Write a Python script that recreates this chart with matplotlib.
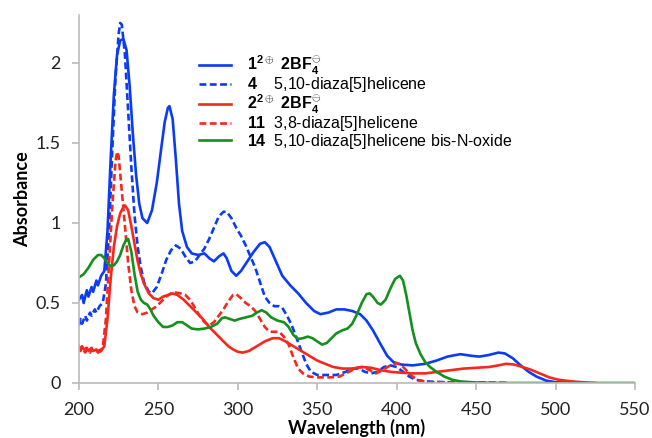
"""UV-vis absorption spectra of helicene dications and diaza[5]helicenes"""
import numpy as np
import matplotlib.pyplot as plt

plt.rcParams['font.family'] = ['Liberation Sans', 'DejaVu Sans']
plt.rcParams['mathtext.fontset'] = 'custom'
plt.rcParams['mathtext.rm'] = 'Liberation Sans'
plt.rcParams['mathtext.bf'] = 'Liberation Sans:bold'

# values
wl_1 = [200, 202, 203, 205, 206, 208, 209, 211, 212, 214, 216, 218, 220, 222, 224, 226, 228, 230,
        232, 234, 236, 238, 240, 243, 246, 249, 252, 254, 256, 257, 259, 261, 263, 265, 268, 271,
        275, 279, 282, 285, 288, 291, 293, 296, 299, 302, 306, 310, 314, 317, 320, 324, 328, 333,
        338, 343, 348, 352, 357, 362, 367, 372, 377, 381, 385, 390, 394, 398, 403, 410, 418, 425,
        432, 440, 447, 452, 458, 464, 468, 473, 478, 483, 488, 494, 500, 510]
abs_1 = [0.52, 0.55, 0.50, 0.58, 0.54, 0.60, 0.57, 0.64, 0.61, 0.67, 0.70, 0.95, 1.40, 1.80, 2.05,
         2.14, 2.15, 2.08, 1.85, 1.55, 1.30, 1.12, 1.03, 1.00, 1.08, 1.25, 1.48, 1.63, 1.72, 1.73,
         1.65, 1.40, 1.12, 0.95, 0.85, 0.81, 0.80, 0.81, 0.78, 0.76, 0.79, 0.81, 0.78, 0.70, 0.67,
         0.70, 0.76, 0.82, 0.87, 0.88, 0.85, 0.76, 0.67, 0.61, 0.56, 0.50, 0.45, 0.43, 0.44, 0.46,
         0.46, 0.45, 0.43, 0.39, 0.33, 0.24, 0.17, 0.13, 0.115, 0.11, 0.12, 0.14, 0.165, 0.18, 0.17,
         0.165, 0.175, 0.19, 0.185, 0.155, 0.11, 0.07, 0.04, 0.015, 0.005, 0.0]

wl_4 = [200, 201, 202, 204, 205, 207, 208, 210, 211, 213, 215, 217, 219, 221, 223, 225, 226, 227,
        229, 231, 233, 235, 237, 239, 241, 244, 246, 249, 252, 255, 258, 261, 264, 267, 270, 273,
        276, 279, 282, 285, 288, 291, 293, 296, 299, 302, 305, 308, 311, 314, 317, 320, 323, 326,
        328, 331, 334, 337, 340, 343, 346, 350, 356, 362, 368, 372, 376, 380, 384, 388, 392, 396,
        400, 404, 408, 412, 418, 430, 470]
abs_4 = [0.36, 0.40, 0.37, 0.42, 0.39, 0.44, 0.42, 0.46, 0.44, 0.48, 0.50, 0.62, 0.95, 1.45, 1.90,
         2.18, 2.25, 2.24, 2.05, 1.70, 1.35, 1.05, 0.85, 0.72, 0.63, 0.57, 0.56, 0.60, 0.68, 0.77,
         0.83, 0.86, 0.84, 0.79, 0.75, 0.76, 0.80, 0.84, 0.90, 0.97, 1.04, 1.07, 1.07, 1.03, 0.97,
         0.92, 0.86, 0.79, 0.72, 0.63, 0.54, 0.50, 0.48, 0.48, 0.47, 0.42, 0.36, 0.28, 0.20, 0.12,
         0.07, 0.05, 0.05, 0.05, 0.07, 0.09, 0.09, 0.07, 0.06, 0.07, 0.10, 0.11, 0.10, 0.07, 0.04,
         0.02, 0.01, 0.005, 0.0]

wl_2 = [200, 201, 202, 203, 205, 206, 208, 209, 211, 212, 214, 216, 218, 220, 222, 224, 226, 228,
        229, 231, 233, 235, 237, 239, 241, 244, 247, 250, 253, 256, 259, 262, 266, 270, 274, 278,
        282, 286, 290, 294, 297, 300, 303, 307, 312, 317, 322, 326, 330, 335, 340, 345, 350, 355,
        360, 366, 372, 378, 384, 390, 396, 402, 410, 418, 426, 434, 442, 450, 458, 464, 469, 474,
        479, 484, 490, 496, 502, 510, 518, 525]
abs_2 = [0.23, 0.21, 0.23, 0.21, 0.22, 0.20, 0.22, 0.20, 0.21, 0.19, 0.20, 0.23, 0.40, 0.65, 0.85,
         0.98, 1.06, 1.10, 1.11, 1.08, 0.98, 0.87, 0.76, 0.68, 0.62, 0.56, 0.53, 0.52, 0.54, 0.55,
         0.56, 0.55, 0.52, 0.48, 0.44, 0.40, 0.35, 0.31, 0.27, 0.23, 0.21, 0.195, 0.19, 0.20, 0.23,
         0.26, 0.28, 0.28, 0.26, 0.23, 0.20, 0.17, 0.14, 0.12, 0.10, 0.09, 0.09, 0.10, 0.095, 0.08,
         0.07, 0.065, 0.06, 0.06, 0.07, 0.08, 0.09, 0.095, 0.10, 0.11, 0.12, 0.115, 0.10, 0.085,
         0.06, 0.035, 0.02, 0.01, 0.004, 0.0]

wl_11 = [200, 201, 202, 204, 205, 207, 208, 210, 212, 214, 215, 217, 219, 221, 223, 224, 225, 227,
         229, 231, 233, 235, 237, 240, 243, 246, 249, 252, 255, 258, 261, 264, 267, 270, 273, 276,
         279, 282, 285, 288, 291, 294, 297, 299, 302, 305, 308, 311, 314, 317, 320, 323, 326, 329,
         332, 335, 338, 341, 345, 350, 358, 364, 370, 375, 379, 383, 387, 391, 396, 400, 403, 406,
         410, 414, 420, 470]
abs_11 = [0.22, 0.20, 0.22, 0.19, 0.21, 0.19, 0.21, 0.19, 0.20, 0.21, 0.22, 0.40, 0.75, 1.10, 1.38,
          1.445, 1.42, 1.20, 0.98, 0.75, 0.58, 0.48, 0.44, 0.43, 0.44, 0.46, 0.48, 0.51, 0.54, 0.56,
          0.565, 0.56, 0.55, 0.52, 0.47, 0.42, 0.38, 0.36, 0.38, 0.42, 0.46, 0.51, 0.55, 0.555, 0.53,
          0.50, 0.48, 0.45, 0.40, 0.35, 0.32, 0.32, 0.32, 0.29, 0.24, 0.16, 0.09, 0.06, 0.04, 0.035,
          0.035, 0.04, 0.07, 0.095, 0.10, 0.08, 0.06, 0.08, 0.11, 0.125, 0.11, 0.08, 0.04, 0.015,
          0.005, 0.0]

wl_14 = [200, 203, 206, 209, 212, 214, 216, 218, 220, 222, 224, 226, 228, 230, 231, 233, 235, 237,
         239, 241, 243, 245, 247, 250, 253, 256, 259, 262, 265, 268, 271, 275, 279, 283, 287, 290,
         292, 295, 298, 301, 305, 309, 312, 315, 318, 321, 325, 329, 332, 335, 338, 341, 344, 347,
         350, 353, 356, 359, 362, 366, 369, 372, 375, 378, 381, 383, 385, 388, 390, 393, 396, 399,
         402, 404, 406, 408, 410, 412, 415, 418, 421, 425, 430, 435, 440, 450, 460, 550]
abs_14 = [0.66, 0.68, 0.72, 0.77, 0.80, 0.80, 0.78, 0.75, 0.73, 0.735, 0.76, 0.80, 0.86, 0.90, 0.90,
          0.82, 0.68, 0.57, 0.52, 0.50, 0.49, 0.46, 0.42, 0.38, 0.35, 0.35, 0.36, 0.38, 0.38, 0.36,
          0.34, 0.335, 0.34, 0.35, 0.37, 0.405, 0.41, 0.40, 0.39, 0.40, 0.41, 0.42, 0.44, 0.455,
          0.44, 0.41, 0.39, 0.38, 0.35, 0.30, 0.275, 0.28, 0.29, 0.28, 0.26, 0.24, 0.25, 0.28, 0.31,
          0.33, 0.34, 0.37, 0.43, 0.50, 0.555, 0.56, 0.54, 0.50, 0.49, 0.52, 0.59, 0.65, 0.67, 0.64,
          0.55, 0.44, 0.33, 0.25, 0.18, 0.13, 0.10, 0.07, 0.04, 0.02, 0.01, 0.003, 0.0, 0.0]

labels = [r"$\mathbf{1^{2\oplus}\ 2BF_4^{\ominus}}$",
          r"$\mathbf{4}$    5,10-diaza[5]helicene",
          r"$\mathbf{2^{2\oplus}\ 2BF_4^{\ominus}}$",
          r"$\mathbf{11}$  3,8-diaza[5]helicene",
          r"$\mathbf{14}$  5,10-diaza[5]helicene bis-N-oxide"]

blue, red, green = '#0a3cf5', '#f5281e', '#14901e'
series = [(wl_1, abs_1, blue, '-'), (wl_4, abs_4, blue, '--'),
          (wl_2, abs_2, red, '-'), (wl_11, abs_11, red, '--'),
          (wl_14, abs_14, green, '-')]

fig = plt.figure(figsize=(6.52, 4.38), dpi=100)
ax = fig.add_axes([0.121, 0.1256, 0.853, 0.8402])
for (wl, ab, col, ls), lab in zip(series, labels):
    kw = dict(dashes=(2.6, 1.3)) if ls == '--' else {}
    ax.plot(wl, ab, ls, color=col, lw=1.9, label=lab, **kw)

ax.set_xlim(200, 550)
ax.set_ylim(0, 2.3)
ax.set_xticks(np.arange(200, 551, 50))
ax.set_yticks([0, 0.5, 1, 1.5, 2])
ax.set_yticklabels(["0", "0.5", "1", "1.5", "2"])
for s in ['top', 'right']:
    ax.spines[s].set_visible(False)
for s in ['left', 'bottom']:
    ax.spines[s].set_color('#bbbbbb')
    ax.spines[s].set_linewidth(1.2)
ax.tick_params(colors='#bbbbbb', labelcolor='#222222', labelsize=13, length=5, width=1.2)
ax.tick_params(axis='x', pad=9)
ax.tick_params(axis='y', pad=8)
for t in ax.get_xticklabels() + ax.get_yticklabels():
    t.set_family('Lato')
ax.set_xlabel("Wavelength (nm)", fontsize=13, fontweight='bold', family='Lato', labelpad=0)
ax.set_ylabel("Absorbance", fontsize=13, fontweight='bold', family='Lato', labelpad=3)

ax.legend(loc='upper left', bbox_to_anchor=(0.205, 0.912), frameon=False, fontsize=11.5,
          handlelength=2.0, handletextpad=1.0, labelspacing=-0.1, borderaxespad=0)

plt.savefig("out.png", dpi=100)
